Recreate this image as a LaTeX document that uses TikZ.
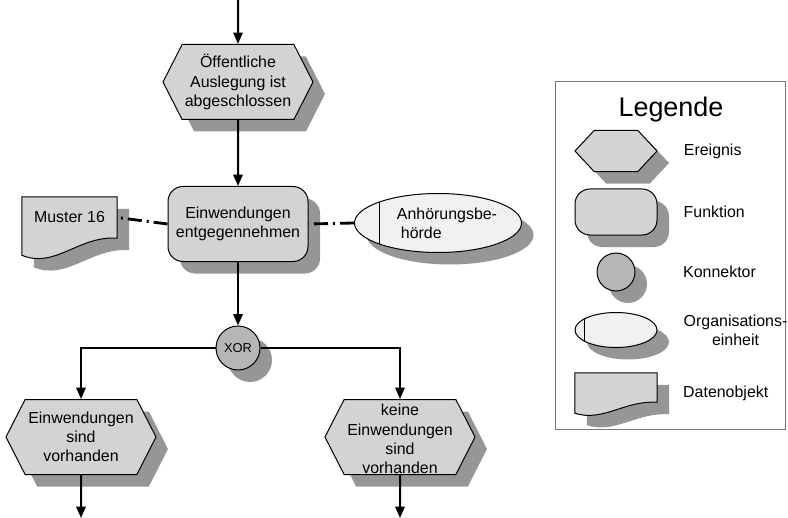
\documentclass[tikz,border=0pt]{standalone}
\usepackage{fontspec}
\setmainfont{Liberation Sans}
\usetikzlibrary{arrows.meta, shapes.geometric, shapes.symbols, shadows, positioning, backgrounds}
\definecolor{evfill}{RGB}{211,211,211}
\definecolor{konfill}{RGB}{182,182,182}
\definecolor{orgfill}{RGB}{241,241,241}
\definecolor{shadowgray}{RGB}{150,150,150}
\definecolor{framegray}{RGB}{120,120,120}
\newcommand{\epkfont}{\fontsize{13.6}{16.4}\selectfont}
\tikzset{>={Triangle[length=3.4mm,width=2.8mm]}}
\tikzset{
  schatten/.style={drop shadow={shadow xshift=3.6mm, shadow yshift=-3.6mm, fill=shadowgray, opacity=1}},
  epk/.style={draw=black, line width=0.3mm, schatten, inner sep=0pt, align=center, font=\epkfont},
  ereignis/.style={epk, signal, signal to=east and west, signal pointer angle=126, fill=evfill, minimum width=45mm, minimum height=22.5mm},
  funktion/.style={epk, rectangle, rounded corners=4.5mm, fill=evfill, minimum width=42mm, minimum height=22.5mm},
  konnektor/.style={epk, circle, fill=konfill, minimum size=13.2mm, font=\fontsize{11}{13}\selectfont},
  orgeinheit/.style={epk, ellipse, fill=orgfill, minimum width=40.2mm, minimum height=17.7mm},
  datenobjekt/.style={inner sep=0pt, align=center, font=\epkfont, minimum width=28.5mm, minimum height=12.3mm},
  fluss/.style={->, line width=0.6mm},
  zuordnung/.style={line width=0.85mm, dash pattern=on 4.2mm off 1.5mm on 0.6mm off 1.5mm},
  legtext/.style={font=\epkfont, align=center, anchor=west, inner sep=0pt},
}
% outline of a data object: #1 node, #2 drop of the left corner, #3/#4 curve controls
\newcommand{\datenform}[4]{%
  \begin{pgfonlayer}{background}
    \fill[shadowgray, transform canvas={xshift=3.6mm, yshift=-3.6mm}]
      (#1.north west) -- (#1.north east) -- (#1.south east)
      .. controls +#3 and +#4 .. ([yshift=-#2]#1.south west) -- cycle;
    \filldraw[fill=evfill, draw=black, line width=0.3mm]
      (#1.north west) -- (#1.north east) -- (#1.south east)
      .. controls +#3 and +#4 .. ([yshift=-#2]#1.south west) -- cycle;
  \end{pgfonlayer}}

\begin{document}
\begin{tikzpicture}[x=0.3mm, y=-0.3mm]
  \useasboundingbox (0,0) rectangle (788,518);

  \node[ereignis] (oeff) at (238,82) {Öffentliche\\Auslegung ist\\abgeschlossen};
  \node[funktion] (einw) at (238,224) {Einwendungen\\entgegennehmen};
  \node[datenobjekt] (muster) at (69.5,217.5) {Muster 16};
  \datenform{muster}{5.1mm}{(-11.4mm,0.9mm)}{(9.9mm,-4.2mm)}
  \node[orgeinheit] (beh) at (438,223) {\hspace*{5.4mm}Anhörungsbe-\\hörde\hspace*{10mm}};
  \draw[line width=0.3mm] (beh.160) -- (beh.200);
  \node[konnektor] (xor) at (238,348) {XOR};
  \node[ereignis] (vorh) at (81,437) {Einwendungen\\sind\\vorhanden};
  \node[ereignis] (keine) at (400,437)
    {\smash{\raisebox{-2.4mm}{\begin{tabular}{@{}c@{}}keine\\Einwendungen\\sind\\vorhanden\end{tabular}}}};

  \coordinate (start) at (238,0);
  \coordinate (ende1) at (81,518);
  \coordinate (ende2) at (400,518);
  \draw[fluss] (start) -- (oeff);
  \draw[fluss] (oeff) -- (einw);
  \draw[fluss] (einw) -- (xor);
  \draw[fluss] (xor) -| (vorh);
  \draw[fluss] (xor) -| (keine);
  \draw[fluss] (vorh) -- (ende1);
  \draw[fluss] (keine) -- (ende2);
  \draw[zuordnung] (einw.west) -- (muster.east);
  \draw[zuordnung] (beh.west) -- (einw.east);

  \node[draw=framegray, line width=0.3mm, minimum width=69mm, minimum height=104.1mm, inner sep=0pt] (legende) at (670,255.5) {};
  \node[font=\fontsize{23}{27}\selectfont] (titel) at (671,110) {Legende};
  \node[ereignis, minimum width=24.6mm, minimum height=12.3mm, signal pointer angle=94] (lereignis) at (616,151) {};
  \node[funktion, minimum width=24.6mm, minimum height=13.8mm] (lfunktion) at (616,212) {};
  \node[konnektor, minimum size=11.4mm] (lkonnektor) at (616,272) {};
  \node[orgeinheit, minimum width=24.6mm, minimum height=10.5mm] (lorg) at (616,330) {};
  \draw[line width=0.3mm] (lorg.160) -- (lorg.200);
  \node[datenobjekt, minimum width=24.6mm, minimum height=8.7mm] (ldaten) at (616,387.5) {};
  \datenform{ldaten}{3.3mm}{(-9.8mm,0.6mm)}{(8.5mm,-2.7mm)}
  \coordinate (konrand) at (657,272);
  \coordinate (datrand) at (657,393);
  \node[legtext, right=7.8mm of lereignis] {Ereignis};
  \node[legtext, right=7.8mm of lfunktion] {Funktion};
  \node[legtext, right=7.8mm of konrand] {Konnektor};
  \node[legtext, right=7.8mm of lorg] {Organisations-\\einheit};
  \node[legtext, right=7.8mm of datrand] {Datenobjekt};
\end{tikzpicture}
\end{document}
